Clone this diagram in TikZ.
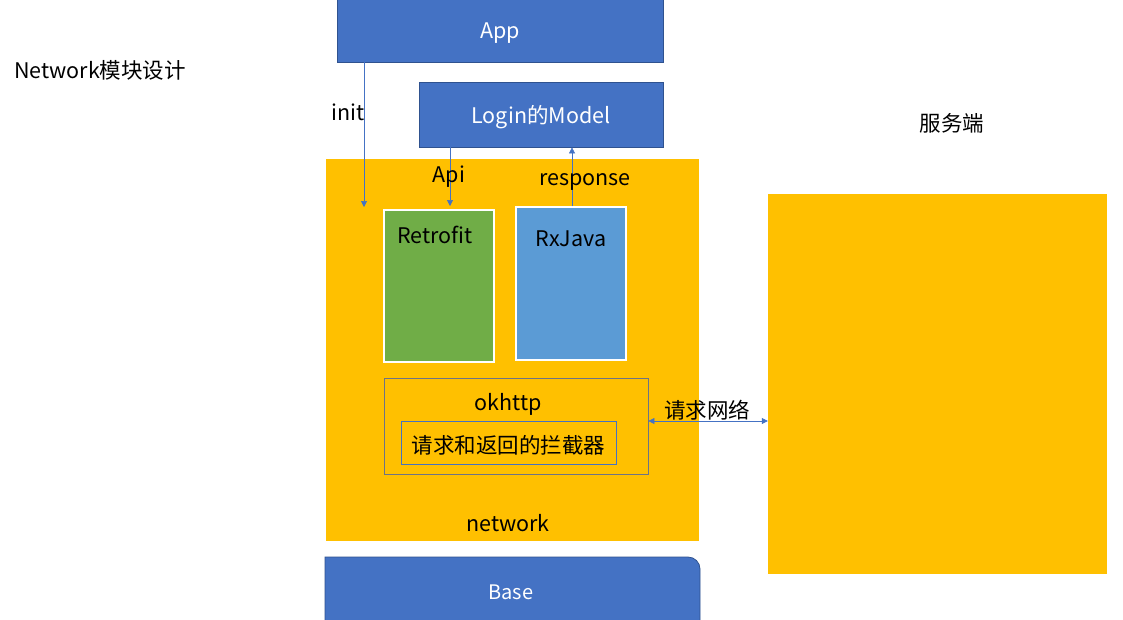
\documentclass[tikz,border=0pt]{standalone}
\usepackage{fontspec}
\setmainfont{Noto Sans CJK SC}
\usetikzlibrary{arrows.meta}
\definecolor{boxblue}{HTML}{4472C4}
\definecolor{boxedge}{HTML}{2F528F}
\definecolor{netyellow}{HTML}{FFC000}
\definecolor{retrogreen}{HTML}{70AD47}
\definecolor{rxblue}{HTML}{5B9BD5}
\definecolor{okedge}{HTML}{6E7385}
\tikzset{
  bluebox/.style={draw=boxedge, line width=0.8pt, fill=boxblue, inner sep=0pt},
  yellowbox/.style={fill=netyellow, inner sep=0pt},
  libbox/.style={draw=white, line width=2pt, inner sep=0pt},
  lbl/.style={font=\fontsize{21.5}{25}\selectfont, inner sep=0pt, text=black, yshift=-3pt},
  wlbl/.style={lbl, text=white},
  arr/.style={draw=boxblue, line width=0.6pt, -{Triangle[width=6pt,length=6pt]}},
  darr/.style={draw=boxblue, line width=0.6pt, {Triangle[width=6pt,length=6pt]}-{Triangle[width=6pt,length=6pt]}},
}
\begin{document}
\begin{tikzpicture}[x=1pt,y=-1pt]
\useasboundingbox (0,0) rectangle (1123,619);
\fill[white] (0,0) rectangle (1123,619);
% title
\node[lbl] (title) at (100,67) {Network模块设计};
% App and Login Model
\node[bluebox, minimum width=326pt, minimum height=64pt] (App) at (500,30) {};
\node[wlbl] (applbl) at (500,30) {App};
\node[bluebox, minimum width=244pt, minimum height=65pt] (Login) at (541,114.5) {};
\node[wlbl] (loginlbl) at (541,114) {Login的Model};
% network area
\node[yellowbox, minimum width=373pt, minimum height=382pt] (network) at (512.5,350) {};
\node[lbl] (netlbl) at (508,520) {network};
% Retrofit and RxJava
\node[libbox, fill=retrogreen, minimum width=110pt, minimum height=152pt] (Retrofit) at (439,286) {};
\node[lbl] (retrolbl) at (435,232) {Retrofit};
\node[libbox, fill=rxblue, minimum width=110pt, minimum height=153pt] (RxJava) at (571,283.5) {};
\node[lbl] (rxlbl) at (571,236) {RxJava};
% okhttp
\node[draw=okedge, line width=0.8pt, inner sep=0pt, minimum width=264pt, minimum height=96pt] (okhttp) at (516,426) {};
\node[lbl] (oklbl) at (508,401) {okhttp};
\node[draw=boxblue, line width=0.8pt, inner sep=0pt, minimum width=215pt, minimum height=43pt] (inter) at (508.5,442.5) {};
\node[lbl] (interlbl) at (508.5,442) {请求和返回的拦截器};
% server
\node[yellowbox, minimum width=339pt, minimum height=380pt] (server) at (937.5,384) {};
\node[lbl] (serverlbl) at (952,120) {服务端};
% Base
\draw[draw=boxedge, line width=0.8pt, fill=boxblue] (325,625) -- (325,557) -- (688,557) arc[start angle=-90, end angle=0, radius=12] -- (700,625) -- cycle;
\node[wlbl, font=\fontsize{20}{24}\selectfont] (Base) at (511,589) {Base};
% connectors
\coordinate (initend) at (364,207);
\draw[arr] (App.south -| initend) -- (initend);
\node[lbl] (initlbl) at (348,109) {init};
\coordinate (apix) at (450,0);
\draw[arr] (Login.south -| apix) -- ([yshift=3pt]Retrofit.north -| apix);
\node[lbl] (apilbl) at (449,174) {Api};
\coordinate (respx) at (572,0);
\draw[arr] (RxJava.north -| respx) -- (Login.south -| respx);
\node[lbl] (resplbl) at (585,179) {response};
\coordinate (netY) at (0,421);
\draw[darr] (okhttp.east |- netY) -- (server.west |- netY);
\node[lbl] (netreq) at (707,407) {请求网络};
\end{tikzpicture}
\end{document}
